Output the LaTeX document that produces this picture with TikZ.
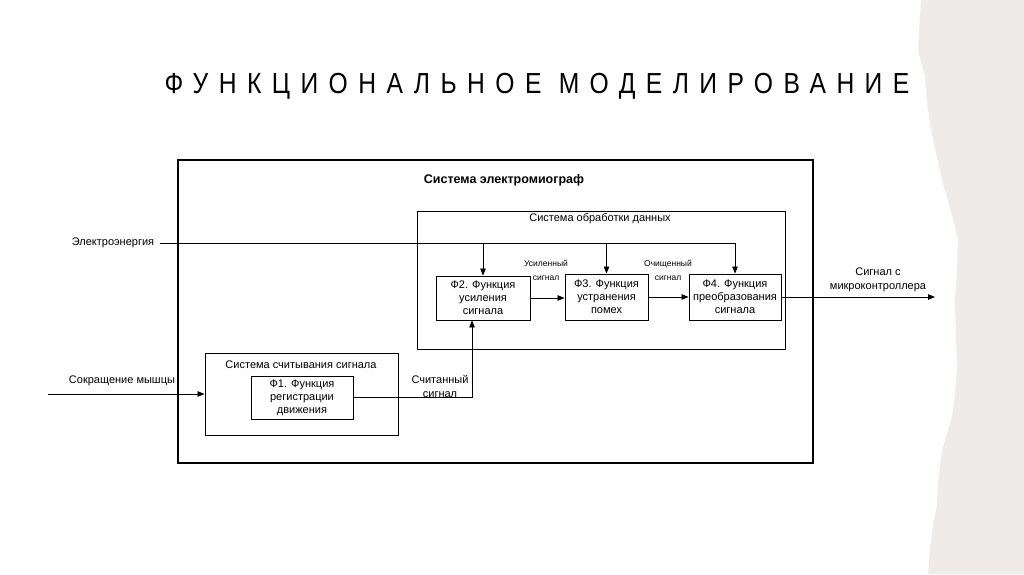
\documentclass[tikz,border=0pt]{standalone}
\usepackage{fontspec}
\setmainfont{Liberation Sans}
\newfontfamily\titlefont[LetterSpace=36,FakeStretch=0.85]{Liberation Sans}
\usetikzlibrary{arrows.meta,positioning}
\definecolor{paper}{HTML}{EEEBE8}
\tikzset{
  box/.style={draw, line width=0.9pt, align=center, inner sep=1pt, font=\fontsize{11}{13}\selectfont},
  frame/.style={draw, line width=0.9pt},
  lbl/.style={align=center, inner sep=0pt, font=\fontsize{11}{14}\selectfont},
  small/.style={align=center, inner sep=0pt, font=\fontsize{8.5}{14}\selectfont},
  arr/.style={-{Triangle[length=7pt,width=5.5pt]}, line width=0.75pt},
  ln/.style={line width=0.75pt}
}
\begin{document}
\begin{tikzpicture}[x=1pt,y=-1pt]
\useasboundingbox (0,0) rectangle (1024,574);
\fill[white] (0,0) rectangle (1024,574);
\fill[paper] (921,0) -- (918,50) -- (925,77) -- (928,110) -- (933,140) -- (943,183) -- (952,215) -- (958,240) -- (957,270) -- (955,300) -- (956,335) -- (957,367) -- (955,395) -- (952,417) -- (942,450) -- (938,483) -- (937,505) -- (933,525) -- (930,550) -- (928,574) -- (1024,574) -- (1024,0) -- cycle;

\node[inner sep=0pt, font=\titlefont\fontsize{29}{32}\selectfont] (title) at (537,86) {ФУНКЦИОНАЛЬНОЕ МОДЕЛИРОВАНИЕ};

\node[frame, line width=1.3pt, minimum width=635pt, minimum height=303pt] (outer) at (495.5,311.5) {};
\node[lbl, font=\bfseries\fontsize{12.5}{14}\selectfont] (outerlbl) at (504,180) {Система электромиограф};

\node[frame, minimum width=368pt, minimum height=138pt] (data) at (601,280) {};
\node[lbl] (datalbl) at (600,219) {Система обработки данных};

\node[frame, minimum width=193pt, minimum height=82pt] (read) at (301.5,394) {};
\node[lbl] (readlbl) at (301,365) {Система считывания сигнала};

\node[box, minimum width=102pt, minimum height=43pt] (f1) at (302,397.5) {Ф1. Функция\\регистрации\\движения};
\node[box, minimum width=94pt, minimum height=44pt] (f2) at (483,298) {Ф2. Функция\\усиления\\сигнала};
\node[box, minimum width=83pt, minimum height=46pt] (f3) at (606.5,297) {Ф3. Функция\\устранения\\помех};
\node[box, minimum width=92pt, minimum height=46pt] (f4) at (735,297) {Ф4. Функция\\преобразования\\сигнала};

% electricity
\node[lbl] (ellbl) at (113,243) {Электроэнергия};
\coordinate (elstart) at (160,243);
\draw[arr] (elstart) -| (f4.north);
\draw[arr] (f2.north |- elstart) -- (f2.north);
\draw[arr] (f3.north |- elstart) -- (f3.north);

% internal flows
\draw[arr] (f2.east) -- (f3.west |- f2.east);
\node[small] (amplbl) at (546,270) {Усиленный\\сигнал};
\draw[arr] (f3.east) -- (f4.west);
\node[small] (cleanlbl) at (668,270) {Очищенный\\сигнал};

% output
\coordinate (outend) at (935,297);
\draw[arr] (f4.east) -- (outend);
\node[lbl] (outlbl) at (878,279.5) {Сигнал с\\микроконтроллера};

% input
\node[lbl] (inlbl) at (122,381) {Сокращение мышцы};
\coordinate (instart) at (48,394);
\draw[arr] (instart) -- (read.west);

% F1 -> F2
\draw[arr] (f1.east) -| ([xshift=-11pt]f2.south);
\node[lbl] (readsig) at (440,386.5) {Считанный\\сигнал};
\end{tikzpicture}
\end{document}
